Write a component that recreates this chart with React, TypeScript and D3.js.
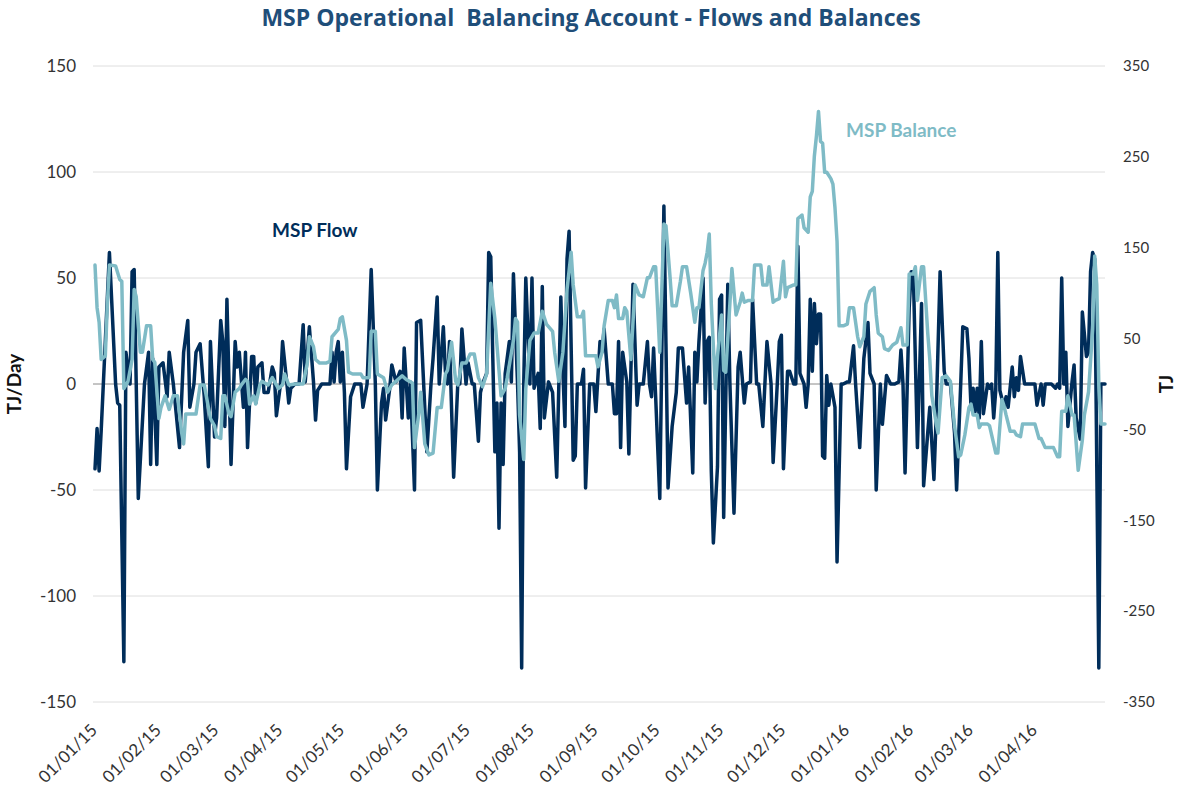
import React from 'react';
import * as d3 from 'd3';

// daily series, first value is 01/01/15; each row is [days since start, value]
const START = new Date(2015, 0, 1);
const END_DAY = 490;

const tickLabels = ['01/01/15', '01/02/15', '01/03/15', '01/04/15', '01/05/15', '01/06/15', '01/07/15', '01/08/15',
	'01/09/15', '01/10/15', '01/11/15', '01/12/15', '01/01/16', '01/02/16', '01/03/16', '01/04/16'];
const leftTicks = [-150, -100, -50, 0, 50, 100, 150];
const rightTicks = [-350, -250, -150, -50, 50, 150, 250, 350];

// MSP Flow, TJ/Day (left axis)
const flowSeries: [number, number][] = [
	[0,-40],[1,-21],[2,-41],[3,-22],[7,62],[10,0],[11,-9],[12,-10],[14,-131],[15,15],[17,0],[18,53],[19,54],[21,-54],[24,0],
	[26,15],[27,-38],[28,12],[30,-38],[31,8],[33,10],[35,-6],[36,15],[38,0],[41,-30],[43,15],[45,30],[46,-11],[48,0],[49,15],
	[51,19],[53,-6],[55,-39],[56,20],[58,-25],[59,-16],[61,30],[62,20],[63,-20],[64,40],[66,-38],[68,20],[69,8],[70,15],
	[72,-11],[73,15],[74,-30],[76,13],[77,13],[78,-9],[79,8],[81,10],
	[82,-4],[84,-4],[86,8],[87,5],[88,-15],[90,0],[91,20],[93,1],[94,-9],[95,-2],[97,0],[99,0],[101,28],[102,1],[104,27],
	[106,1],[107,-17],[108,-3],[110,0],[112,0],[114,0],[115,15],[116,1],[117,15],[118,20],[119,1],[120,15],[121,-4],[122,-40],
	[124,-6],[126,0],[129,0],[130,-11],[132,0],[134,54],[136,0],[137,-50],[139,-9],[140,-2],[141,-17],[143,-2],[144,9],[146,1],
	[148,6],[149,-16],[150,17],[152,-16],[153,1],[155,-50],[156,29],[158,30],[161,-32],[163,0],
	[164,12],[166,41],[167,0],[169,27],[170,6],[171,0],[172,20],[174,-44],[176,0],[177,0],[178,26],[180,0],[181,10],[183,0],
	[184,0],[186,-27],[187,-4],[188,0],[190,5],[191,62],[192,60],[193,12],[194,-32],[195,-9],[196,-68],[197,-9],[198,-38],
	[199,5],[201,20],[202,1],[203,52],[205,0],[206,-32],[207,-134],[208,0],[209,50],[211,0],[212,50],[213,-2],[215,5],
	[216,-21],[217,46],[218,-16],[220,1],[222,-4],[224,-44],[226,41],[227,6],[228,-20],[229,59],[230,72],[232,-36],[233,-34],
	[234,0],[236,0],[237,7],[238,-49],[240,0],[242,0],[243,-13],[245,20],
	[246,15],[247,26],[249,0],[251,0],[252,-14],[253,-14],[254,20],[255,-30],[256,15],[258,1],[259,-33],[261,47],[263,-10],
	[264,0],[266,0],[268,20],[269,0],[270,-6],[271,17],[272,-6],[274,-54],[276,84],[277,19],[278,-49],[280,-20],[282,-4],
	[283,17],[285,17],[287,-9],[288,8],[290,-42],[291,15],[292,1],[293,20],[295,50],[296,-9],[297,20],[298,22],[299,-41],
	[300,-75],[302,-39],[303,40],[304,42],[305,-63],[307,47],[308,1],[310,-61],[312,8],[313,15],[315,-9],[316,0],[318,1],
	[319,40],[321,0],[322,0],[324,-20],[326,20],[328,0],[329,-37],
	[331,0],[332,20],[333,23],[334,-40],[336,6],[337,6],[339,0],[340,0],[341,65],[342,5],[344,0],[345,-11],[346,0],[347,40],
	[348,6],[349,38],[350,19],[351,33],[352,33],[353,-34],[354,-35],[355,4],[356,-10],[357,0],[359,-11],[360,-84],[362,0],
	[363,0],[365,1],[366,1],[368,18],[369,0],[371,-30],[373,12],[375,29],[376,5],[378,0],[379,-50],[381,0],[382,-19],[384,4],
	[386,0],[388,0],[390,1],[391,16],[392,0],[393,-42],[395,36],[396,53],[397,53],[399,-30],[401,38],[402,-48],[404,-23],
	[405,-11],[407,-45],[408,-18],[410,53],
	[412,6],[413,0],[415,0],[417,-23],[418,-50],[420,0],[421,27],[423,26],[424,12],[425,-11],[426,-2],[427,-13],[428,-2],
	[429,-16],[430,20],[431,-14],[433,0],[434,-2],[435,0],[436,-16],[437,-3],[438,62],[439,-3],[441,-11],[442,-6],[443,-11],
	[445,8],[446,-6],[447,3],[448,-3],[449,13],[451,0],[453,0],[456,0],[457,-10],[459,0],[460,-10],[461,0],[463,0],[464,0],
	[466,-2],[467,0],[468,-2],[469,50],[470,0],[471,15],[472,-20],[474,1],[475,9],[476,-16],[478,-26],[479,34],[481,13],
	[482,15],[483,53],[484,62],[485,59],[487,-134],[488,0],[490,0]
];

// MSP Balance, TJ (right axis)
const balanceSeries: [number, number][] = [
	[0,131],[1,84],[2,68],[3,27],[5,31],[6,88],[7,131],[10,130],[12,115],[13,113],[14,-5],[16,3],[18,27],[19,104],[20,96],
	[22,35],[23,35],[25,64],[27,64],[28,27],[29,24],[31,-38],[32,-26],[34,-13],[36,-28],[38,-13],[40,-13],[42,-53],[43,-66],
	[44,-33],[47,-33],[49,-33],[51,-1],[53,-1],[56,-38],[58,-46],[59,-58],[61,-60],[62,-13],[63,-13],[65,-33],[66,-36],
	[68,-9],[70,-5],[71,-1],[73,5],[74,3],[75,-22],[77,-13],[78,-22],[80,-1],
	[81,3],[84,-1],[86,7],[89,-5],[91,-1],[92,11],[94,-1],[97,0],[101,0],[103,23],[104,52],[106,41],[107,27],[109,23],
	[112,23],[114,25],[115,52],[118,60],[119,72],[120,74],[122,48],[123,13],[125,11],[129,11],[130,7],[133,7],[134,58],
	[136,58],[137,11],[140,7],[142,-9],[144,-1],[146,3],[149,9],[151,5],[154,1],[155,-70],[157,-34],[158,-9],[160,-66],
	[162,-78],[164,-76],
	[166,-26],[168,-26],[170,11],[171,15],[173,46],[175,3],[176,-1],[178,23],[180,23],[182,33],[184,33],[186,7],[188,-3],
	[190,11],[192,111],[194,72],[196,15],[197,-13],[199,-5],[200,7],[203,48],[204,72],[205,68],[206,-34],[208,-83],[209,-5],
	[211,48],[213,56],[215,56],[217,80],[219,66],[222,58],[223,35],[225,3],[227,35],[229,104],[231,145],[232,109],[234,74],
	[236,74],[237,80],[238,31],[240,31],[243,31],[244,19],[246,35],[247,64],
	[249,92],[251,92],[252,84],[253,98],[254,72],[256,72],[257,84],[258,80],[260,27],[262,109],[264,98],[266,96],[268,117],
	[269,117],[271,129],[272,129],[274,35],[276,176],[277,174],[279,117],[280,86],[282,86],[284,113],[285,129],[287,129],
	[289,100],[291,68],[292,84],[293,84],[295,125],[296,133],[297,145],[298,165],[299,88],[301,-5],[302,31],[304,76],
	[305,15],[306,13],[308,88],[309,127],[311,76],[313,90],[314,100],[315,90],[317,92],[319,92],[320,131],[323,131],
	[324,109],[326,109],[327,129],[329,90],[330,92],
	[332,94],[334,135],[335,96],[336,106],[339,109],[340,109],[341,182],[343,186],[344,172],[346,167],[347,206],[348,212],
	[349,251],[350,273],[351,300],[352,267],[353,265],[354,233],[355,233],[357,226],[358,220],[359,194],[360,157],[361,64],
	[363,64],[365,66],[366,84],[368,84],[370,52],[371,41],[373,52],[374,88],[376,102],[378,106],[379,76],[380,56],[382,52],
	[383,39],[385,37],[387,43],[389,46],[391,62],[392,43],[394,43],[395,121],[397,121],[398,129],[399,92],[401,129],
	[402,129],[404,56],[405,27],[406,-13],[408,-42],[409,-54],[411,7],[413,9],[415,3],
	[417,-46],[419,-80],[420,-78],[422,-56],[424,-26],[425,-22],[426,-34],[428,-34],[429,-48],[430,-44],[433,-44],[434,-46],
	[436,-66],[437,-76],[438,-76],[440,-17],[441,-24],[442,-34],[444,-52],[446,-52],[447,-56],[449,-58],[450,-44],[452,-44],
	[456,-44],[458,-60],[459,-60],[461,-70],[463,-70],[465,-70],[467,-80],[468,-80],[469,-30],[471,-30],[472,-13],[474,-34],
	[475,-34],[477,-95],[479,-62],[480,-34],[482,-9],[484,60],[485,141],[486,109],[487,-1],[488,-44],[490,-44]
];

const FLOW_COLOR = '#002D5A';
const BALANCE_COLOR = '#7FBBC6';
const TITLE_COLOR = '#1F4E79';
const FONT = 'Lato, "Open Sans", sans-serif';

export default function App() {
	const width = 1185;
	const height = 792;
	const margin = { left: 95, right: 80, top: 66, bottom: 90 };

	const parseLabel = d3.timeParse('%d/%m/%y');
	const x = d3.scaleTime()
		.domain([START, d3.timeDay.offset(START, END_DAY)])
		.range([margin.left, width - margin.right]);
	const yLeft = d3.scaleLinear().domain([-150, 150]).range([height - margin.bottom, margin.top]);
	const yRight = d3.scaleLinear().domain([-350, 350]).range([height - margin.bottom, margin.top]);

	const flowLine = d3.line<[number, number]>()
		.x(d => x(d3.timeDay.offset(START, d[0])))
		.y(d => yLeft(d[1]));
	const balanceLine = d3.line<[number, number]>()
		.x(d => x(d3.timeDay.offset(START, d[0])))
		.y(d => yRight(d[1]));

	const gridX0 = margin.left - 2;
	const gridX1 = width - margin.right;

	return (
		<svg width={width} height={height} style={{ position: 'absolute', left: 0, top: 0, background: '#fff' }}
			fontFamily={FONT}>
			<text x={591} y={26} textAnchor="middle" fontSize={23} fontWeight="bold" fill={TITLE_COLOR}
				fontFamily='"Open Sans", sans-serif' style={{ whiteSpace: 'pre' }}>
				MSP Operational  Balancing Account - Flows and Balances
			</text>

			{/* gridlines */}
			{leftTicks.map(t => (
				<line key={'g' + t} x1={gridX0} x2={gridX1} y1={yLeft(t)} y2={yLeft(t)}
					stroke={t === 0 ? '#8a8a8a' : '#dedede'} strokeWidth={1} />
			))}

			{/* left axis labels */}
			{leftTicks.map(t => (
				<text key={'l' + t} x={76} y={yLeft(t)} dy="0.35em" textAnchor="end" fontSize={17} fill="#333">
					{t}
				</text>
			))}

			{/* right axis labels */}
			{rightTicks.map(t => (
				<text key={'r' + t} x={1123} y={yRight(t)} dy="0.35em" textAnchor="start" fontSize={15} fill="#333">
					{t}
				</text>
			))}

			{/* x axis labels */}
			{tickLabels.map(lab => {
				const d = parseLabel(lab) as Date;
				return (
					<text key={lab} transform={`translate(${x(d) - 1},${727}) rotate(-45)`} textAnchor="end"
						dy="0.35em" fontSize={17} fill="#333">
						{lab}
					</text>
				);
			})}

			<text transform={`translate(21,${yLeft(0)}) rotate(-90)`} textAnchor="middle" fontSize={19}
				fontWeight="bold" fill="#111">TJ/Day</text>
			<text transform={`translate(1173,${yLeft(0)}) rotate(-90)`} textAnchor="middle" fontSize={19}
				fontWeight="bold" fill="#111">TJ</text>

			<path d={flowLine(flowSeries) || ''} fill="none" stroke={FLOW_COLOR} strokeWidth={3.5}
				strokeLinejoin="round" strokeLinecap="round" />
			<path d={balanceLine(balanceSeries) || ''} fill="none" stroke={BALANCE_COLOR} strokeWidth={3.5}
				strokeLinejoin="round" strokeLinecap="round" />

			<text x={272} y={237} fontSize={19} fontWeight="bold" fill={FLOW_COLOR}>MSP Flow</text>
			<text x={846} y={137} fontSize={19} fontWeight="bold" fill={BALANCE_COLOR}>MSP Balance</text>
		</svg>
	);
}
